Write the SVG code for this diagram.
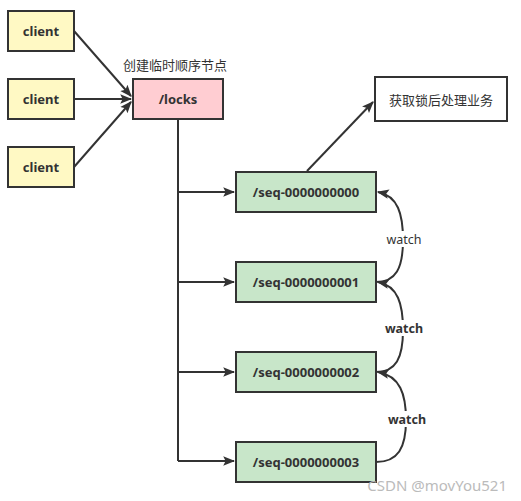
<svg xmlns="http://www.w3.org/2000/svg" width="521" height="501" viewBox="0 0 521 501">
<style>
.box{stroke:#333;stroke-width:2}
.client{fill:#fff9c4}
.locks{fill:#ffcdd2}
.seq{fill:#c8e6c9}
.res{fill:#fff}
.t{font-family:"Noto Sans","Noto Sans CJK SC",sans-serif;font-size:13px;font-weight:bold;fill:#333;text-anchor:middle;dominant-baseline:central}
.tc{font-family:"Noto Sans CJK SC",sans-serif;font-size:13px;fill:#333;text-anchor:middle;dominant-baseline:central}
.c{fill:none;stroke:#333;stroke-width:2}
.w{font-family:"Noto Sans",sans-serif;font-size:12.5px;text-anchor:middle;dominant-baseline:central;fill:#333}
</style>
<defs>
<marker id="a" viewBox="0 0 10 10" refX="9" refY="5" markerWidth="6" markerHeight="6" orient="auto" markerUnits="strokeWidth"><path d="M0,1 L10,5 L0,9 L2,5 Z" fill="#333"/></marker>
</defs>
<rect width="521" height="501" fill="#fff"/>
<g id="connectors">
<line class="c" x1="74" y1="31" x2="131" y2="96" marker-end="url(#a)"/>
<line class="c" x1="74" y1="99" x2="131" y2="99" marker-end="url(#a)"/>
<line class="c" x1="74" y1="167" x2="131" y2="102" marker-end="url(#a)"/>
<path class="c" d="M178,119 V461"/>
<line class="c" x1="178" y1="192" x2="234" y2="192" marker-end="url(#a)"/>
<line class="c" x1="178" y1="282" x2="234" y2="282" marker-end="url(#a)"/>
<line class="c" x1="178" y1="372" x2="234" y2="372" marker-end="url(#a)"/>
<line class="c" x1="178" y1="461" x2="234" y2="461" marker-end="url(#a)"/>
<line class="c" x1="307" y1="171" x2="373" y2="102" marker-end="url(#a)"/>
<path class="c" d="M376,282 C396,282 403,268 403,240 C403,214 398,196 378,192" marker-end="url(#a)"/>
<path class="c" d="M376,372 C396,372 403,358 403,330 C403,304 398,286 378,282" marker-end="url(#a)"/>
<path class="c" d="M376,462 C398,462 406,448 406,420 C406,394 400,376 378,372" marker-end="url(#a)"/>
<rect x="382" y="231" width="44" height="16" fill="#fff"/>
<text class="w" x="404" y="239">watch</text>
<rect x="382" y="320" width="44" height="16" fill="#fff"/>
<text class="w" x="404" y="328" font-weight="bold">watch</text>
<rect x="385" y="411" width="44" height="16" fill="#fff"/>
<text class="w" x="407" y="419" font-weight="bold">watch</text>
</g>
<g id="client1"><rect class="box client" x="8" y="11" width="66" height="40"/><text class="t" x="41" y="31">client</text></g>
<g id="client2"><rect class="box client" x="8" y="79" width="66" height="40"/><text class="t" x="41" y="99">client</text></g>
<g id="client3"><rect class="box client" x="8" y="147" width="66" height="40"/><text class="t" x="41" y="167">client</text></g>
<g id="locks"><rect class="box locks" x="133" y="79" width="90" height="40"/><text class="t" x="178" y="99">/locks</text></g>
<text class="tc" x="175" y="64">创建临时顺序节点</text>
<g id="result"><rect class="box res" x="375" y="77" width="132" height="44"/><text class="tc" x="441" y="99">获取锁后处理业务</text></g>
<g id="seq0"><rect class="box seq" x="236" y="172" width="140" height="40"/><text class="t" x="306" y="192">/seq-0000000000</text></g>
<g id="seq1"><rect class="box seq" x="236" y="262" width="140" height="40"/><text class="t" x="306" y="282">/seq-0000000001</text></g>
<g id="seq2"><rect class="box seq" x="236" y="352" width="140" height="40"/><text class="t" x="306" y="372">/seq-0000000002</text></g>
<g id="seq3"><rect class="box seq" x="236" y="442" width="140" height="40"/><text class="t" x="306" y="462">/seq-0000000003</text></g>
<text x="507" y="491" font-family="Noto Sans,sans-serif" font-size="15" fill="#bbb" text-anchor="end">CSDN @movYou521</text>
</svg>
